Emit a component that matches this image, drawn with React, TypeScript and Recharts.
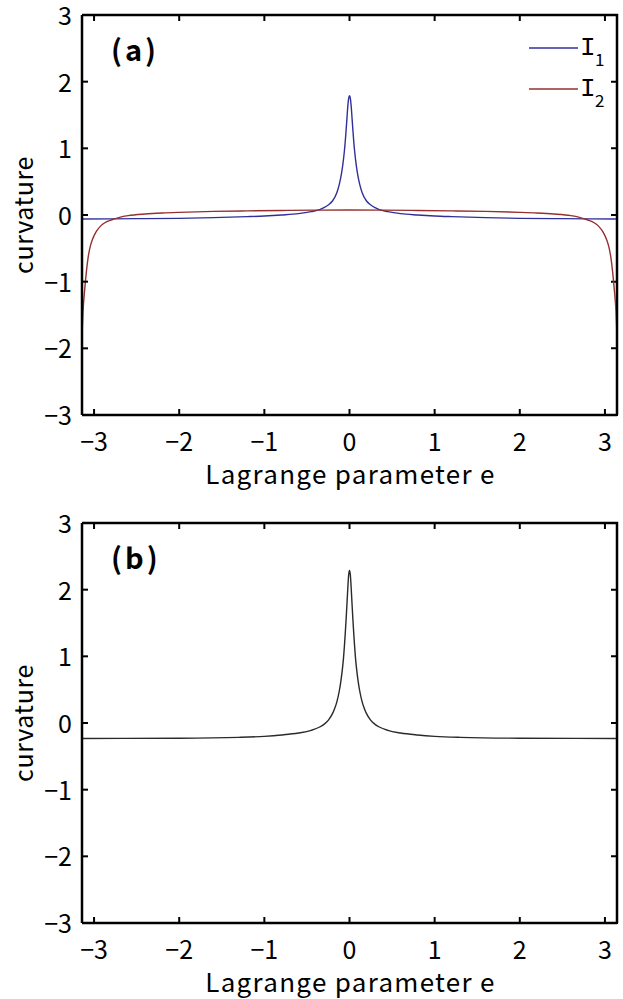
import React from 'react';
import { LineChart, Line, XAxis, YAxis, Legend } from 'recharts';

const FONT = '"Noto Sans CJK JP", "Noto Sans", sans-serif';

const X_TICKS = [-3, -2, -1, 0, 1, 2, 3];
const Y_TICKS = [-3, -2, -1, 0, 1, 2, 3];
const X_DOMAIN = [-3.1416, 3.1416];
const Y_DOMAIN = [-3, 3];

// Panel (a), series I1
const I1_X = [-3.1416, -2.5, -2.0, -1.6, -1.2, -1.0, -0.8, -0.6, -0.45, -0.35, -0.3, -0.25, -0.2, -0.15, -0.12, -0.1, -0.08, -0.06, -0.05, -0.04, -0.03, -0.02, -0.01, 0,
  0.01, 0.02, 0.03, 0.04, 0.05, 0.06, 0.08, 0.1, 0.12, 0.15, 0.2, 0.25, 0.3, 0.35, 0.45, 0.6, 0.8, 1.0, 1.2, 1.6, 2.0, 2.5, 3.1416];
const I1_Y = [-0.06, -0.055, -0.05, -0.04, -0.025, -0.015, 0.0, 0.02, 0.05, 0.08, 0.11, 0.15, 0.21, 0.33, 0.46, 0.58, 0.74, 0.96, 1.1, 1.27, 1.45, 1.63, 1.75, 1.79,
  1.75, 1.63, 1.45, 1.27, 1.1, 0.96, 0.74, 0.58, 0.46, 0.33, 0.21, 0.15, 0.11, 0.08, 0.05, 0.02, 0.0, -0.015, -0.025, -0.04, -0.05, -0.055, -0.06];

// Panel (a), series I2
const I2_X = [-3.1416, -3.13, -3.11, -3.09, -3.07, -3.05, -3.02, -2.98, -2.94, -2.9, -2.85, -2.8, -2.7, -2.6, -2.4, -2.2, -2.0, -1.6, -1.2, -0.8, -0.4, 0,
  0.4, 0.8, 1.2, 1.6, 2.0, 2.2, 2.4, 2.6, 2.7, 2.8, 2.85, 2.9, 2.94, 2.98, 3.02, 3.05, 3.07, 3.09, 3.11, 3.13, 3.1416];
const I2_Y = [-1.8, -1.45, -1.12, -0.85, -0.64, -0.5, -0.37, -0.26, -0.19, -0.14, -0.1, -0.075, -0.035, -0.01, 0.015, 0.03, 0.04, 0.054, 0.062, 0.068, 0.073, 0.075,
  0.073, 0.068, 0.062, 0.054, 0.04, 0.03, 0.015, -0.01, -0.035, -0.075, -0.1, -0.14, -0.19, -0.26, -0.37, -0.5, -0.64, -0.85, -1.12, -1.45, -1.8];

// Panel (b)
const B_X = [-3.1416, -2.0, -1.3, -1.0, -0.8, -0.6, -0.45, -0.35, -0.3, -0.25, -0.2, -0.18, -0.15, -0.12, -0.1, -0.08, -0.07, -0.06, -0.05, -0.04, -0.03, -0.02, -0.01, 0,
  0.01, 0.02, 0.03, 0.04, 0.05, 0.06, 0.07, 0.08, 0.1, 0.12, 0.15, 0.18, 0.2, 0.25, 0.3, 0.35, 0.45, 0.6, 0.8, 1.0, 1.3, 2.0, 3.1416];
const B_Y = [-0.232, -0.228, -0.215, -0.2, -0.18, -0.15, -0.11, -0.06, -0.02, 0.04, 0.14, 0.2, 0.31, 0.48, 0.64, 0.85, 0.98, 1.15, 1.34, 1.55, 1.78, 2.02, 2.22, 2.29,
  2.22, 2.02, 1.78, 1.55, 1.34, 1.15, 0.98, 0.85, 0.64, 0.48, 0.31, 0.2, 0.14, 0.04, -0.02, -0.06, -0.11, -0.15, -0.18, -0.2, -0.215, -0.228, -0.232];

const SERIES_A = [
  { name: 'I1', xs: I1_X, ys: I1_Y, color: '#30309a' },
  { name: 'I2', xs: I2_X, ys: I2_Y, color: '#963030' },
];
const SERIES_B = [{ name: 'curvature', xs: B_X, ys: B_Y, color: '#2a2a2a' }];

const zip = (xs: number[], ys: number[]) => xs.map((x, i) => ({ x, y: ys[i] }));
const fmt = (v: number) => (v < 0 ? '\u2212' + Math.abs(v) : String(v));

const TICK_FS = 25;
const TICK_LEN = 6;
const FRAME_W = 2.5;

// layout constants of each panel
const CHART_W = 623;
const M_TOP = 15;
const M_RIGHT = 6;
const Y_AXIS_W = 82;
const X_AXIS_H = 60;
const PLOT_H = 400;
const PLOT_W = CHART_W - Y_AXIS_W - M_RIGHT;

const frameX = (v: number) => Y_AXIS_W + ((v - X_DOMAIN[0]) / (X_DOMAIN[1] - X_DOMAIN[0])) * PLOT_W;
const frameY = (v: number) => M_TOP + PLOT_H - ((v - Y_DOMAIN[0]) / (Y_DOMAIN[1] - Y_DOMAIN[0])) * PLOT_H;

const BottomTick = (p: any) => (
  <g>
    <line x1={p.x} y1={p.y} x2={p.x} y2={p.y - TICK_LEN} stroke="#000" strokeWidth={2} />
    <text x={p.x} y={p.y + 36} textAnchor="middle" fontSize={TICK_FS} fontFamily={FONT} fill="#000">
      {fmt(p.payload.value)}
    </text>
  </g>
);
const LeftTick = (p: any) => (
  <g>
    <line x1={p.x} y1={p.y} x2={p.x + TICK_LEN} y2={p.y} stroke="#000" strokeWidth={2} />
    <text x={p.x - 10} y={p.y + 10} textAnchor="end" fontSize={TICK_FS} fontFamily={FONT} fill="#000">
      {fmt(p.payload.value)}
    </text>
  </g>
);

const XTitle = (props: any) => {
  const vb = props.viewBox || {};
  return (
    <text x={vb.x + vb.width / 2 + 1} y={vb.y + 69} textAnchor="middle" fontSize={26} letterSpacing={1.3} fontFamily={FONT} fill="#000">
      Lagrange parameter e
    </text>
  );
};
const YTitle = (props: any) => {
  const vb = props.viewBox || {};
  const cy = vb.y + vb.height / 2;
  return (
    <text x={33} y={cy} transform={`rotate(-90, 33, ${cy})`} textAnchor="middle" fontSize={25} letterSpacing={0.6} fontFamily={FONT} fill="#000">
      curvature
    </text>
  );
};

const LegendBox = (props: any) => {
  const items = (props.payload || []).filter((it: any) => it.value === 'I1' || it.value === 'I2');
  return (
    <svg width={100} height={90}>
      {items.map((it: any, i: number) => {
        const y = 23 + i * 41;
        const name = String(it.value);
        return (
          <g key={i}>
            <line x1={9} y1={y} x2={58} y2={y} stroke={it.color} strokeWidth={1.3} />
            <text x={60} y={y + 7} fontSize={26} fontFamily='"Liberation Mono", "DejaVu Sans Mono", monospace' fill="#000">
              {name.charAt(0)}
            </text>
            <text x={75} y={y + 18} fontSize={17} fontFamily={FONT} fill="#000">
              {name.slice(1)}
            </text>
          </g>
        );
      })}
    </svg>
  );
};

type PanelProps = { series: typeof SERIES_A; label: string; height: number; legend: boolean };

const Panel = ({ series, label, height, legend }: PanelProps) => {
  const bottom = height - M_TOP - PLOT_H - X_AXIS_H;
  const top = M_TOP;
  const right = Y_AXIS_W + PLOT_W;
  return (
    <div style={{ position: 'relative', width: CHART_W, height }}>
      <LineChart width={CHART_W} height={height} margin={{ top: M_TOP, right: M_RIGHT, left: 0, bottom }}>
        <XAxis
          dataKey="x"
          type="number"
          domain={X_DOMAIN}
          ticks={X_TICKS}
          interval={0}
          allowDataOverflow
          height={X_AXIS_H}
          tickSize={0}
          tickMargin={0}
          tickLine={false}
          axisLine={{ stroke: '#000', strokeWidth: FRAME_W }}
          tick={BottomTick}
          label={<XTitle />}
        />
        <YAxis
          type="number"
          domain={Y_DOMAIN}
          ticks={Y_TICKS}
          interval={0}
          allowDataOverflow
          width={Y_AXIS_W}
          tickSize={0}
          tickMargin={0}
          tickLine={false}
          axisLine={{ stroke: '#000', strokeWidth: FRAME_W }}
          tick={LeftTick}
          label={<YTitle />}
        />
        {series.map((s) => (
          <Line
            key={s.name}
            data={zip(s.xs, s.ys)}
            dataKey="y"
            name={s.name}
            type="monotone"
            stroke={s.color}
            strokeWidth={1.4}
            dot={false}
            activeDot={false}
            isAnimationActive={false}
          />
        ))}
        <path
          d={`M${Y_AXIS_W},${top} L${right},${top} L${right},${top + PLOT_H}`}
          fill="none"
          stroke="#000"
          strokeWidth={FRAME_W}
        />
        <path
          d={X_TICKS.map((t) => `M${frameX(t)},${top} L${frameX(t)},${top + TICK_LEN}`).join(' ')}
          fill="none"
          stroke="#000"
          strokeWidth={2}
        />
        <path
          d={Y_TICKS.map((t) => `M${right},${frameY(t)} L${right - TICK_LEN},${frameY(t)}`).join(' ')}
          fill="none"
          stroke="#000"
          strokeWidth={2}
        />
        <text x={111} y={61} fontSize={29} fontWeight="bold" fontFamily={FONT} letterSpacing={3} fill="#000">
          {label}
        </text>
        {legend && (
          <Legend
            layout="vertical"
            align="center"
            verticalAlign="middle"
            content={<LegendBox />}
            wrapperStyle={{ position: 'absolute', left: 520, top: 25, width: 100, height: 90 }}
          />
        )}
      </LineChart>
      <div
        style={{
          position: 'absolute',
          left: Y_AXIS_W,
          top: top - 1,
          width: PLOT_W + 1,
          height: 0,
          borderTop: '2.5px solid #000',
          pointerEvents: 'none',
        }}
      />
      <div
        style={{
          position: 'absolute',
          left: right - 1,
          top: top - 1,
          width: 0,
          height: PLOT_H + 2,
          borderLeft: '2.5px solid #000',
          pointerEvents: 'none',
        }}
      />
    </div>
  );
};

export default function App() {
  return (
    <div style={{ position: 'absolute', left: 0, top: 0, width: 623, height: 999, background: '#fff', overflow: 'hidden' }}>
      <div style={{ position: 'absolute', left: 0, top: 0 }}>
        <Panel series={SERIES_A} label="(a)" height={508} legend={true} />
      </div>
      <div style={{ position: 'absolute', left: 0, top: 508 }}>
        <Panel series={SERIES_B} label="(b)" height={491} legend={false} />
      </div>
    </div>
  );
}
